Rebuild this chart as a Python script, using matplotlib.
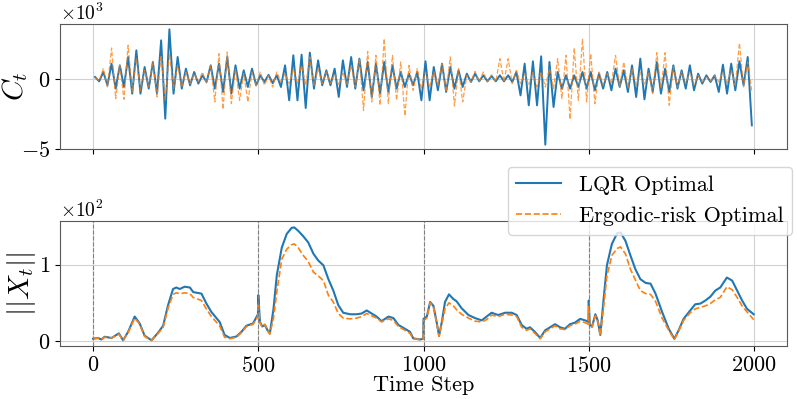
import numpy as np
import matplotlib
matplotlib.use('Agg')
import matplotlib.pyplot as plt

plt.rcParams.update({
    'font.family': 'serif',
    'font.serif': ['cmr10', 'DejaVu Serif'],
    'mathtext.fontset': 'cm',
    'axes.formatter.use_mathtext': True,
    'axes.unicode_minus': True,
    'font.size': 16,
})

# C_t, read as (high, low) per 25-step window
lqr_hi = [143, 500, 1095, 976, 1571, 2047, 857, 1214, 2761, 3546,
          1571, 738, 500, 262, 976, 1095, 1571, 976, 619, 738,
          262, 300, 262, 976, 1690, 1737, 1880, 1333, 619, 738,
          1333, 1571, 1452, 1214, 1095, 1214, 976, 500, 381, 500,
          1261, 857, 1095, 857, 619, 381, 381, 262, 214, 262,
          262, 500, 1095, 1261, 1618, 1214, 500, 262, 262, 500,
          500, 381, 500, 738, 619, 976, 1452, 738, 1214, 738,
          976, 619, 976, 381, 262, 262, 1023, 1095, 1261, 1571]
lqr_lo = [-167, -452, -690, -571, -1047, -1047, -690, -1047, -2832, -1047,
          -690, -452, -333, -214, -690, -928, -1047, -690, -571, -452,
          -214, -300, -571, -1523, -1523, -2071, -690, -452, -452, -1285,
          -571, -690, -809, -1285, -1047, -928, -690, -571, -452, -1523,
          -1523, -809, -928, -690, -571, -214, -167, -167, -167, -167,
          -214, -1172, -1880, -1880, -4689, -2000, -690, -690, -571, -690,
          -809, -690, -809, -571, -928, -1285, -1452, -928, -1047, -928,
          -690, -690, -809, -333, -214, -928, -1047, -809, -452, -3308]
erg_hi = [100, 738, 2213, 976, 2404, 1452, 619, 1261, 1690, 1809,
          976, 500, 381, 500, 976, 1809, 1928, 738, 381, 500,
          500, 262, 500, 381, 738, 976, 1571, 738, 500, 381,
          500, 976, 1452, 1975, 1690, 2880, 1690, 1214, 976, 738,
          500, 500, 1095, 1571, 738, 262, 547, 500, 300, 1452,
          1452, 619, 381, 500, 500, 738, 1452, 1690, 2213, 2880,
          1809, 500, 381, 1690, 1214, 738, 500, 500, 1880, 1880,
          857, 500, 500, 262, 143, 262, 500, 619, 2570, 1214]
erg_lo = [-120, -571, -1404, -1452, -928, -809, -571, -1285, -1523, -690,
          -571, -333, -214, -333, -1642, -2166, -1761, -1523, -1642, -452,
          -452, -571, -214, -333, -333, -452, -452, -333, -333, -452,
          -452, -571, -2237, -1642, -1880, -1761, -1523, -2642, -809, -690,
          -571, -452, -928, -1928, -1642, -214, -214, -214, -200, -214,
          -333, -333, -452, -571, -571, -690, -1404, -2880, -1523, -1642,
          -1761, -452, -333, -571, -690, -452, -452, -1047, -690, -1880,
          -571, -333, -452, -214, -167, -214, -333, -452, -571, -928]

# ||X_t||
steps = [0, 15, 25, 35, 56, 78, 91, 106, 126, 141, 156, 177, 197, 212, 227, 242, 252, 262, 277, 293,
         303, 328, 343, 358, 383, 398, 414, 434, 449, 464, 484, 494, 499, 500, 505, 512, 520, 528, 535, 546,
         556, 571, 586, 601, 609, 621, 636, 651, 667, 682, 697, 712, 727, 742, 757, 778, 798, 813, 828, 843,
         858, 873, 894, 909, 924, 944, 959, 969, 989, 999, 1000, 1010, 1020, 1030, 1040, 1047, 1055, 1065, 1077, 1090,
         1100, 1115, 1136, 1156, 1176, 1191, 1206, 1226, 1247, 1267, 1282, 1297, 1312, 1322, 1337, 1353, 1368, 1383, 1398, 1413,
         1428, 1443, 1458, 1474, 1489, 1499, 1500, 1503, 1510, 1520, 1527, 1535, 1545, 1555, 1570, 1586, 1596, 1611, 1626, 1641,
         1656, 1672, 1687, 1702, 1722, 1742, 1759, 1772, 1787, 1807, 1822, 1838, 1853, 1868, 1883, 1898, 1918, 1934, 1949, 1964,
         1979, 1999]
lqr_x = [3, 4, 2, 5.6, 4, 10, 1, 12, 32, 23, 7, 1, 11, 20, 47, 68, 70, 68, 71, 70,
         64, 62, 49, 38, 25, 8, 4, 6, 12, 20, 23, 31, 35, 60, 25, 19, 21, 14, 10, 42,
         86, 122, 140, 148, 148.5, 144, 137, 129, 114, 105, 99, 81, 66, 47, 37, 35, 35, 36, 40, 36,
         32, 26, 32, 30, 21, 16, 12, 3.5, 2, 3, 29, 32, 51, 46, 24, 7, 24, 51, 61, 55,
         52, 43, 34, 30, 27, 32, 37, 34, 37, 37, 34, 21, 16, 18, 12, 4, 14, 18, 22, 18,
         16, 22, 24, 29, 27, 25, 53, 21, 19, 35, 27, 8, 55, 99, 127, 141, 142, 131, 112, 94,
         81, 76, 75, 62, 38, 16, 3, 14, 29, 40, 48, 49, 53, 58, 66, 70, 83, 79, 66, 53,
         42, 35]
erg_x = [3, 4, 2, 5, 4, 9, 1, 11, 30, 22, 6, 1, 10, 18, 43, 61, 63, 62, 63, 62,
         57, 53, 42, 32, 20, 5, 3, 5, 11, 19, 22, 28, 33, 50, 24, 18, 22, 14, 9, 30,
         64, 107, 120, 126, 127, 122, 112, 104, 90, 85, 79, 60, 51, 36, 30, 29, 30, 32, 36, 33,
         30, 25, 29, 27, 19, 14, 10, 3, 2, 3, 27, 30, 50, 45, 23, 6, 22, 42, 50, 46,
         41, 35, 30, 26, 25, 28, 34, 32, 35, 34, 32, 18, 14, 16, 10, 3, 12, 16, 20, 16,
         15, 20, 22, 26, 24, 22, 45, 20, 18, 33, 26, 7, 45, 85, 112, 121, 123, 114, 94, 80,
         66, 62, 61, 52, 30, 14, 2, 13, 27, 37, 42, 44, 46, 49, 54, 57, 71, 67, 57, 46,
         38, 28]
restarts = [0, 500, 1000, 1500]

t_top = np.arange(0, 2000, 12.5) + 6
lqr_c = np.column_stack([lqr_hi, lqr_lo]).ravel()
erg_c = np.column_stack([erg_hi, erg_lo]).ravel()

fig = plt.figure(figsize=(7.97, 3.99), dpi=100)
ax1 = plt.subplot(2, 1, 1)
ax2 = plt.subplot(2, 1, 2, sharex=ax1)

for ax in (ax1, ax2):
    for s in ax.spines.values():
        s.set_color('0.35')
    ax.grid(True, color='0.82', lw=0.8)
    ax.set_axisbelow(True)

ax1.plot(t_top, lqr_c, color='tab:blue', lw=1.4, label='LQR Optimal')
ax1.plot(t_top, erg_c, color='tab:orange', lw=0.9, ls='--', alpha=0.75, label='Ergodic-risk Optimal')
ax1.set_ylabel(r'$C_t$', fontsize=21)
ax1.yaxis.set_label_coords(-0.041, 0.5)
ax1.set_yticks([-5000, 0])
ax1.set_ylim(-5000, 3930)
ax1.ticklabel_format(style='sci', scilimits=(0, 0), axis='y')
ax1.tick_params(labelbottom=False)

ax2.plot(steps, lqr_x, color='tab:blue', lw=1.5, label='LQR Optimal')
ax2.plot(steps, erg_x, color='tab:orange', lw=1.2, ls='--', label='Ergodic-risk Optimal')
for r in restarts:
    ax2.axvline(r, color='gray', ls='--', lw=0.8)
ax2.set_ylabel(r'$||X_t||$', fontsize=21)
ax2.yaxis.set_label_coords(-0.03, 0.5)
ax2.set_xlabel('Time Step', fontsize=16, labelpad=0)
ax2.set_yticks([0, 100])
ax2.set_ylim(-6.5, 157)
ax2.ticklabel_format(style='sci', scilimits=(0, 0), axis='y')
ax2.set_xticks([0, 500, 1000, 1500, 2000])
ax2.set_xlim(-100, 2100)
ax2.legend(loc='upper right', bbox_to_anchor=(0.994, 0.582), bbox_transform=fig.transFigure,
           borderaxespad=0, fontsize=16)

# scale factors drawn as plain text just above each axes
for ax, p in ((ax1, 3), (ax2, 2)):
    ax.yaxis.get_offset_text().set_visible(False)
    ax.text(0.0, 1.0, r'$\times10^{%d}$' % p, transform=ax.transAxes,
            ha='left', va='bottom', fontsize=14)

plt.subplots_adjust(left=0.0753, right=0.9875, top=0.94, bottom=0.1328, hspace=0.575)
plt.savefig('out.png', dpi=100)
